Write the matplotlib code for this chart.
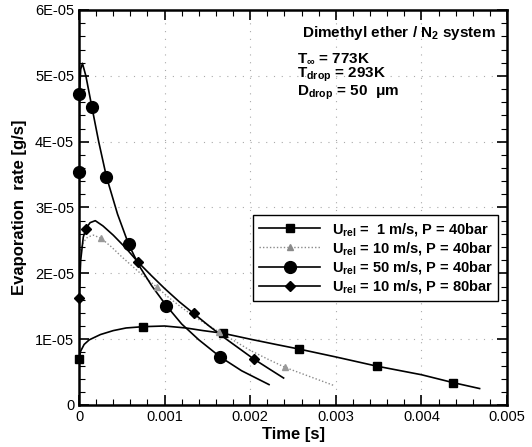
import numpy as np
import matplotlib.pyplot as plt
from matplotlib.ticker import MultipleLocator, FuncFormatter

# Kurven (t in ms, Rate in 1E-05 g/s)
t1 = [0.0, 0.02, 0.06, 0.12, 0.25, 0.4, 0.55, 0.75, 1.0, 1.25, 1.45, 1.68, 2.0, 2.3, 2.57, 3.0, 3.48, 4.0, 4.37, 4.68]
r1 = [0.70, 0.82, 0.92, 0.99, 1.07, 1.13, 1.17, 1.19, 1.20, 1.17, 1.13, 1.09, 1.00, 0.92, 0.85, 0.73, 0.59, 0.46, 0.34, 0.25]
t1_m = [0.0, 0.75, 1.68, 2.57, 3.48, 4.37]
r1_m = [0.70, 1.19, 1.09, 0.85, 0.59, 0.34]

t2 = [0.0, 0.05, 0.1, 0.17, 0.26, 0.38, 0.5, 0.7, 0.91, 1.05, 1.2, 1.42, 1.64, 1.82, 2.0, 2.2, 2.41, 2.7, 2.97]
r2 = [2.30, 2.47, 2.55, 2.58, 2.53, 2.40, 2.25, 2.02, 1.79, 1.63, 1.48, 1.28, 1.11, 0.97, 0.83, 0.70, 0.57, 0.43, 0.30]
t2_m = [0.26, 0.91, 1.64, 2.41]
r2_m = [2.53, 1.79, 1.11, 0.57]

t3 = [0.0, 0.005, 0.02, 0.04, 0.08, 0.15, 0.23, 0.32, 0.45, 0.58, 0.7, 0.85, 1.02, 1.2, 1.4, 1.65, 1.9, 2.22]
r3 = [3.54, 4.72, 5.10, 5.19, 5.00, 4.53, 4.00, 3.47, 2.90, 2.44, 2.12, 1.81, 1.51, 1.23, 0.99, 0.73, 0.52, 0.31]
t3_m = [0.0, 0.005, 0.15, 0.32, 0.58, 1.02, 1.65]
r3_m = [3.54, 4.72, 4.53, 3.47, 2.44, 1.51, 0.73]

t4 = [0.0, 0.02, 0.05, 0.08, 0.13, 0.19, 0.28, 0.4, 0.55, 0.69, 0.85, 1.0, 1.17, 1.34, 1.52, 1.7, 1.87, 2.04, 2.22, 2.39]
r4 = [1.62, 2.20, 2.55, 2.68, 2.77, 2.80, 2.72, 2.58, 2.38, 2.17, 1.96, 1.77, 1.57, 1.39, 1.20, 1.02, 0.86, 0.70, 0.55, 0.41]
t4_m = [0.0, 0.08, 0.69, 1.34, 2.04]
r4_m = [1.62, 2.68, 2.17, 1.39, 0.70]

labels = [r'U$_{\mathregular{rel}}$ =  1 m/s, P = 40bar',
          r'U$_{\mathregular{rel}}$ = 10 m/s, P = 40bar',
          r'U$_{\mathregular{rel}}$ = 50 m/s, P = 40bar',
          r'U$_{\mathregular{rel}}$ = 10 m/s, P = 80bar']

plt.rcParams['font.family'] = ['Liberation Sans', 'DejaVu Sans']
plt.rcParams['mathtext.fontset'] = 'custom'
plt.rcParams['mathtext.rm'] = 'Liberation Sans:bold'
plt.rcParams['mathtext.it'] = 'Liberation Sans:bold'
plt.rcParams['mathtext.bf'] = 'Liberation Sans:bold'

fig = plt.figure(figsize=(5.32, 4.47), dpi=100)
ax = fig.add_axes([79/532, 42/447, 428/532, 395/447])

def ms(t):
    return np.array(t) * 1e-3

def sc(r):
    return np.array(r) * 1e-5

# Linien
ax.plot(ms(t1), sc(r1), color='black', lw=1.2)
ax.plot(ms(t2), sc(r2), color='#8a8a8a', lw=1.0, ls=(0, (1, 1.5)))
ax.plot(ms(t3), sc(r3), color='black', lw=1.2)
ax.plot(ms(t4), sc(r4), color='black', lw=1.2)

# Marker
ax.plot(ms(t1_m), sc(r1_m), ls='none', marker='s', ms=6, color='black', clip_on=False, zorder=5)
ax.plot(ms(t2_m), sc(r2_m), ls='none', marker='^', ms=5, color='#999999', clip_on=False, zorder=5)
ax.plot(ms(t3_m), sc(r3_m), ls='none', marker='o', ms=8.5, color='black', clip_on=False, zorder=5)
ax.plot(ms(t4_m), sc(r4_m), ls='none', marker='D', ms=5.5, color='black', clip_on=False, zorder=5)

# Legenden-Einträge (Proxy)
h1, = ax.plot([], [], color='black', lw=1.2, marker='s', ms=6)
h2, = ax.plot([], [], color='#8a8a8a', lw=1.0, ls=(0, (1, 1.5)), marker='^', ms=5)
h3, = ax.plot([], [], color='black', lw=1.2, marker='o', ms=8.5)
h4, = ax.plot([], [], color='black', lw=1.2, marker='D', ms=5.5)
leg = ax.legend([h1, h2, h3, h4], labels, loc='upper left',
                bbox_to_anchor=(0.407, 0.251, 0.572, 0.23), mode='expand',
                prop={'weight': 'bold', 'size': 10.5}, fancybox=False,
                edgecolor='black', framealpha=1, handlelength=4.2,
                borderaxespad=0, labelspacing=0.15, handletextpad=0.8,
                borderpad=0.4)
leg.get_frame().set_linewidth(1.0)

# Achsen
ax.set_xlim(0, 0.005)
ax.set_ylim(0, 6e-5)
ax.xaxis.set_major_locator(MultipleLocator(0.001))
ax.xaxis.set_minor_locator(MultipleLocator(0.0002))
ax.yaxis.set_major_locator(MultipleLocator(1e-5))
ax.yaxis.set_minor_locator(MultipleLocator(0.2e-5))
ax.xaxis.set_major_formatter(FuncFormatter(lambda v, p: '0' if v == 0 else f'{v:g}'))
ax.yaxis.set_major_formatter(FuncFormatter(lambda v, p: '0' if abs(v) < 1e-12 else f'{v:.0E}'))
ax.tick_params(which='both', direction='in', top=True, right=True, labelsize=10.5)
ax.tick_params(which='major', length=7, width=1.2)
ax.tick_params(which='minor', length=4, width=0.8)
for s in ax.spines.values():
    s.set_linewidth(1.8)
ax.grid(True, which='major', color='#aaaaaa', ls=(0, (1, 6)), lw=0.8)

ax.set_xlabel('Time [s]', fontsize=12, fontweight='bold', labelpad=2)
ax.set_ylabel('Evaporation  rate [g/s]', fontsize=12, fontweight='bold', labelpad=6)

# Beschriftung
ax.text(0.975, 0.965, r'Dimethyl ether / N$_2$ system', transform=ax.transAxes,
        ha='right', va='top', fontsize=11, fontweight='bold')
ax.text(0.51, 0.895, r'T$_{\infty}$ = 773K' + '\n' + r'T$_{\mathregular{drop}}$ = 293K' + '\n' + r'D$_{\mathregular{drop}}$ = 50  $\mu$m',
        transform=ax.transAxes, ha='left', va='top', fontsize=11, fontweight='bold',
        linespacing=1.0)

plt.savefig('out.png', dpi=100)
